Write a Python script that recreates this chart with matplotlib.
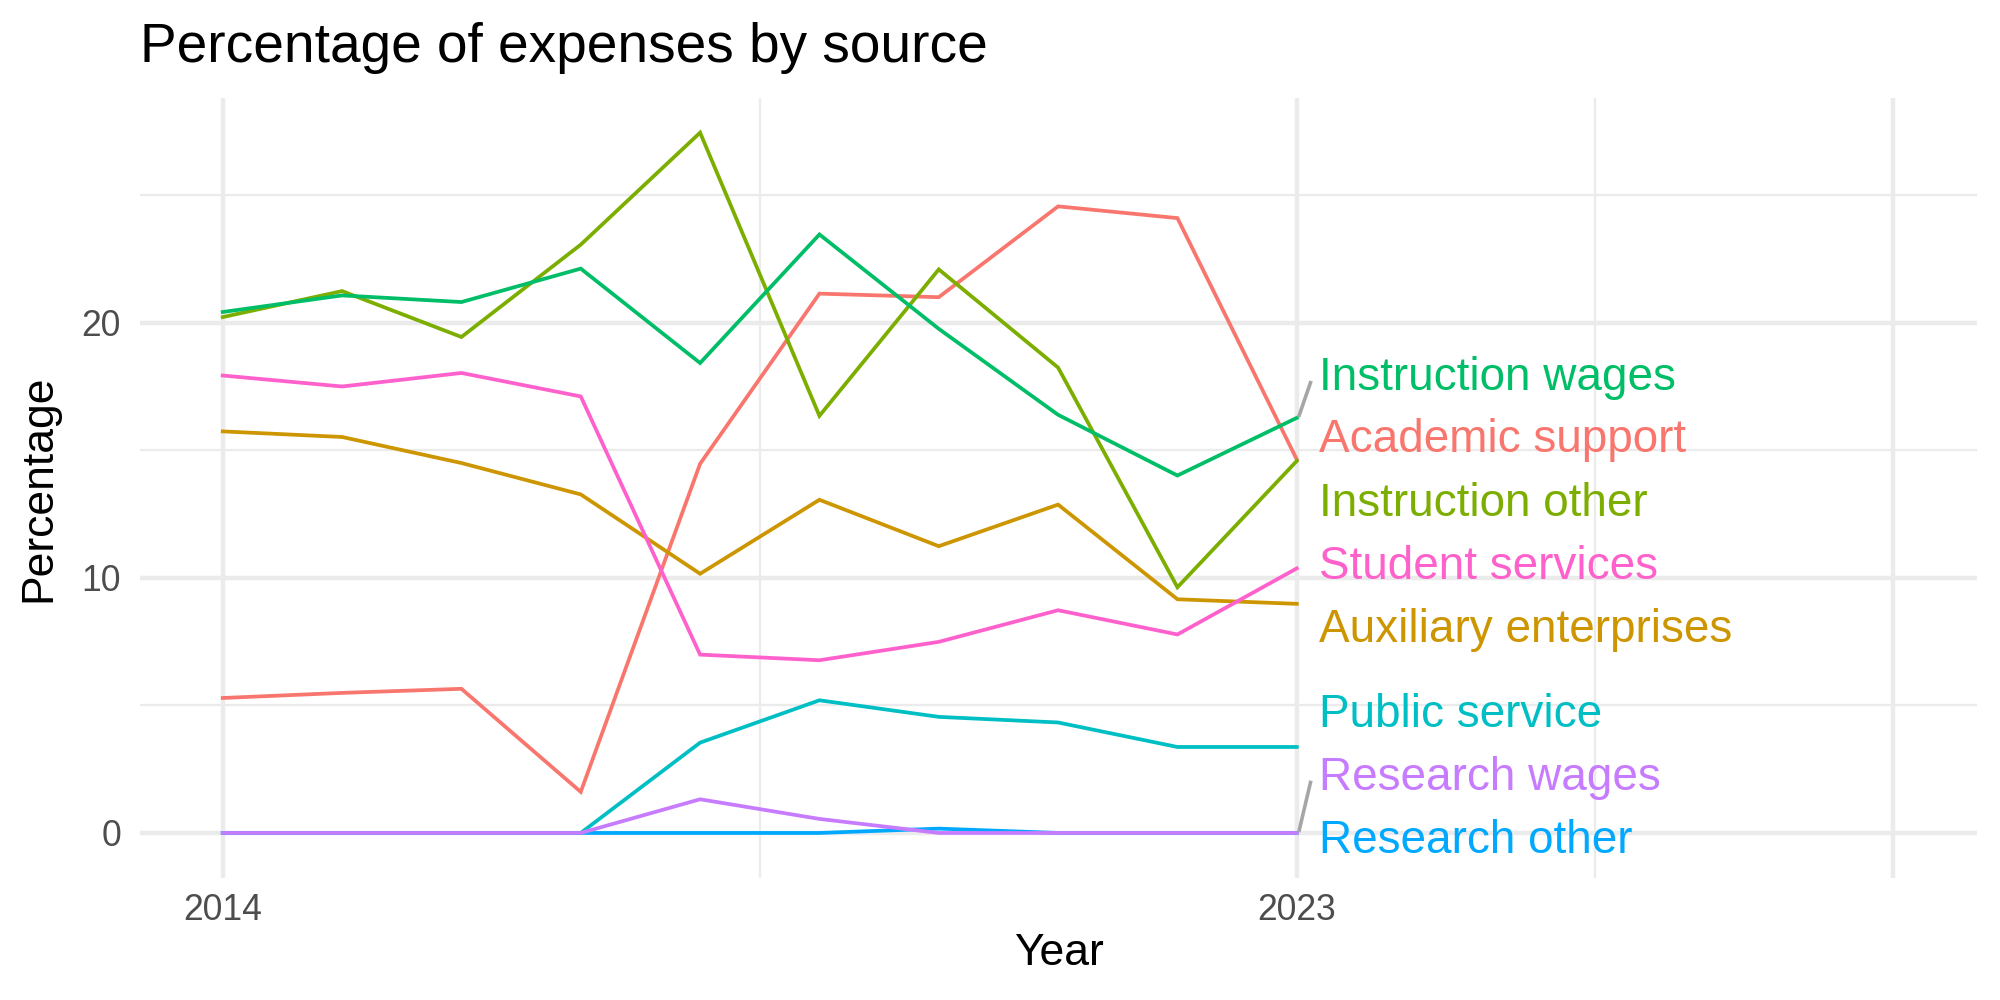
import matplotlib.pyplot as plt
from matplotlib.ticker import FixedLocator

plt.rcParams['font.family'] = ['Liberation Sans', 'DejaVu Sans']

years = [2014, 2015, 2016, 2017, 2018, 2019, 2020, 2021, 2022, 2023]

academic_support = [5.29, 5.49, 5.65, 1.61, 14.47, 21.14, 21.0, 24.56, 24.1, 14.64]
auxiliary_enterprises = [15.74, 15.52, 14.5, 13.27, 10.16, 13.06, 11.24, 12.87, 9.16, 8.98]
instruction_other = [20.22, 21.24, 19.44, 23.06, 27.45, 16.35, 22.09, 18.24, 9.63, 14.58]
instruction_wages = [20.42, 21.07, 20.81, 22.12, 18.42, 23.46, 19.76, 16.39, 14.01, 16.27]
public_service = [0, 0, 0, 0, 3.54, 5.2, 4.55, 4.33, 3.37, 3.37]
research_other = [0, 0, 0, 0, 0, 0, 0.17, 0, 0, 0]
research_wages = [0, 0, 0, 0, 1.32, 0.55, 0, 0, 0, 0]
student_services = [17.93, 17.5, 18.03, 17.11, 6.99, 6.77, 7.49, 8.73, 7.78, 10.37]

series = {
    "Academic support": academic_support,
    "Auxiliary enterprises": auxiliary_enterprises,
    "Instruction other": instruction_other,
    "Instruction wages": instruction_wages,
    "Public service": public_service,
    "Research other": research_other,
    "Research wages": research_wages,
    "Student services": student_services,
}
colors = {
    "Academic support": "#F8766D",
    "Auxiliary enterprises": "#CD9600",
    "Instruction other": "#7CAE00",
    "Instruction wages": "#00BE67",
    "Public service": "#00BFC4",
    "Research other": "#00A9FF",
    "Research wages": "#C77CFF",
    "Student services": "#FF61CC",
}

# label baselines (repelled positions) on the right
label_y = {
    "Instruction wages": 17.38,
    "Academic support": 14.92,
    "Instruction other": 12.44,
    "Student services": 9.95,
    "Auxiliary enterprises": 7.50,
    "Public service": 4.15,
    "Research wages": 1.68,
    "Research other": -0.79,
}
# connector segments where the label moved far from the line end
seg_end = {"Instruction wages": 17.65, "Research wages": 1.98}

fig = plt.figure(figsize=(10, 5), dpi=200)
ax = fig.add_axes([0.0702, 0.1224, 0.9183, 0.7794])

grid_col = "#EBEBEB"
for s in ax.spines.values():
    s.set_visible(False)

ax.set_xlim(2013.31, 2028.70)
ax.set_ylim(-1.75, 28.8)

ax.xaxis.set_major_locator(FixedLocator([2014, 2023, 2028]))
ax.xaxis.set_minor_locator(FixedLocator([2018.5, 2025.5]))
ax.set_xticklabels(["2014", "2023", ""])
ax.yaxis.set_major_locator(FixedLocator([0, 10, 20]))
ax.yaxis.set_minor_locator(FixedLocator([5, 15, 25]))
ax.set_yticklabels(["0", "10", "20"])

ax.grid(which="major", color=grid_col, linewidth=1.6)
ax.grid(which="minor", color=grid_col, linewidth=0.8)
ax.set_axisbelow(True)
ax.tick_params(which="both", length=0)
ax.tick_params(axis="x", labelsize=12.8, labelcolor="#4D4D4D", pad=5.5)
ax.tick_params(axis="y", labelsize=12.8, labelcolor="#4D4D4D", pad=7)

for name, vals in series.items():
    ax.plot(years, vals, color=colors[name], linewidth=1.35, solid_joinstyle="miter")

for name, yv in seg_end.items():
    ax.plot([2023.02, 2023.115], [series[name][-1] + 0.1, yv], color="#A6A6A6", linewidth=1.3)

for name, yv in label_y.items():
    ax.text(2023.19, yv, name, color=colors[name], fontsize=16.5, ha="left", va="baseline")

ax.set_xlabel("Year", fontsize=16, labelpad=2)
ax.set_ylabel("Percentage", fontsize=16, labelpad=8)
fig.text(0.0702, 0.938, "Percentage of expenses by source", fontsize=19.8, ha="left", va="baseline")

fig.savefig("out.png", dpi=200, facecolor="white")
